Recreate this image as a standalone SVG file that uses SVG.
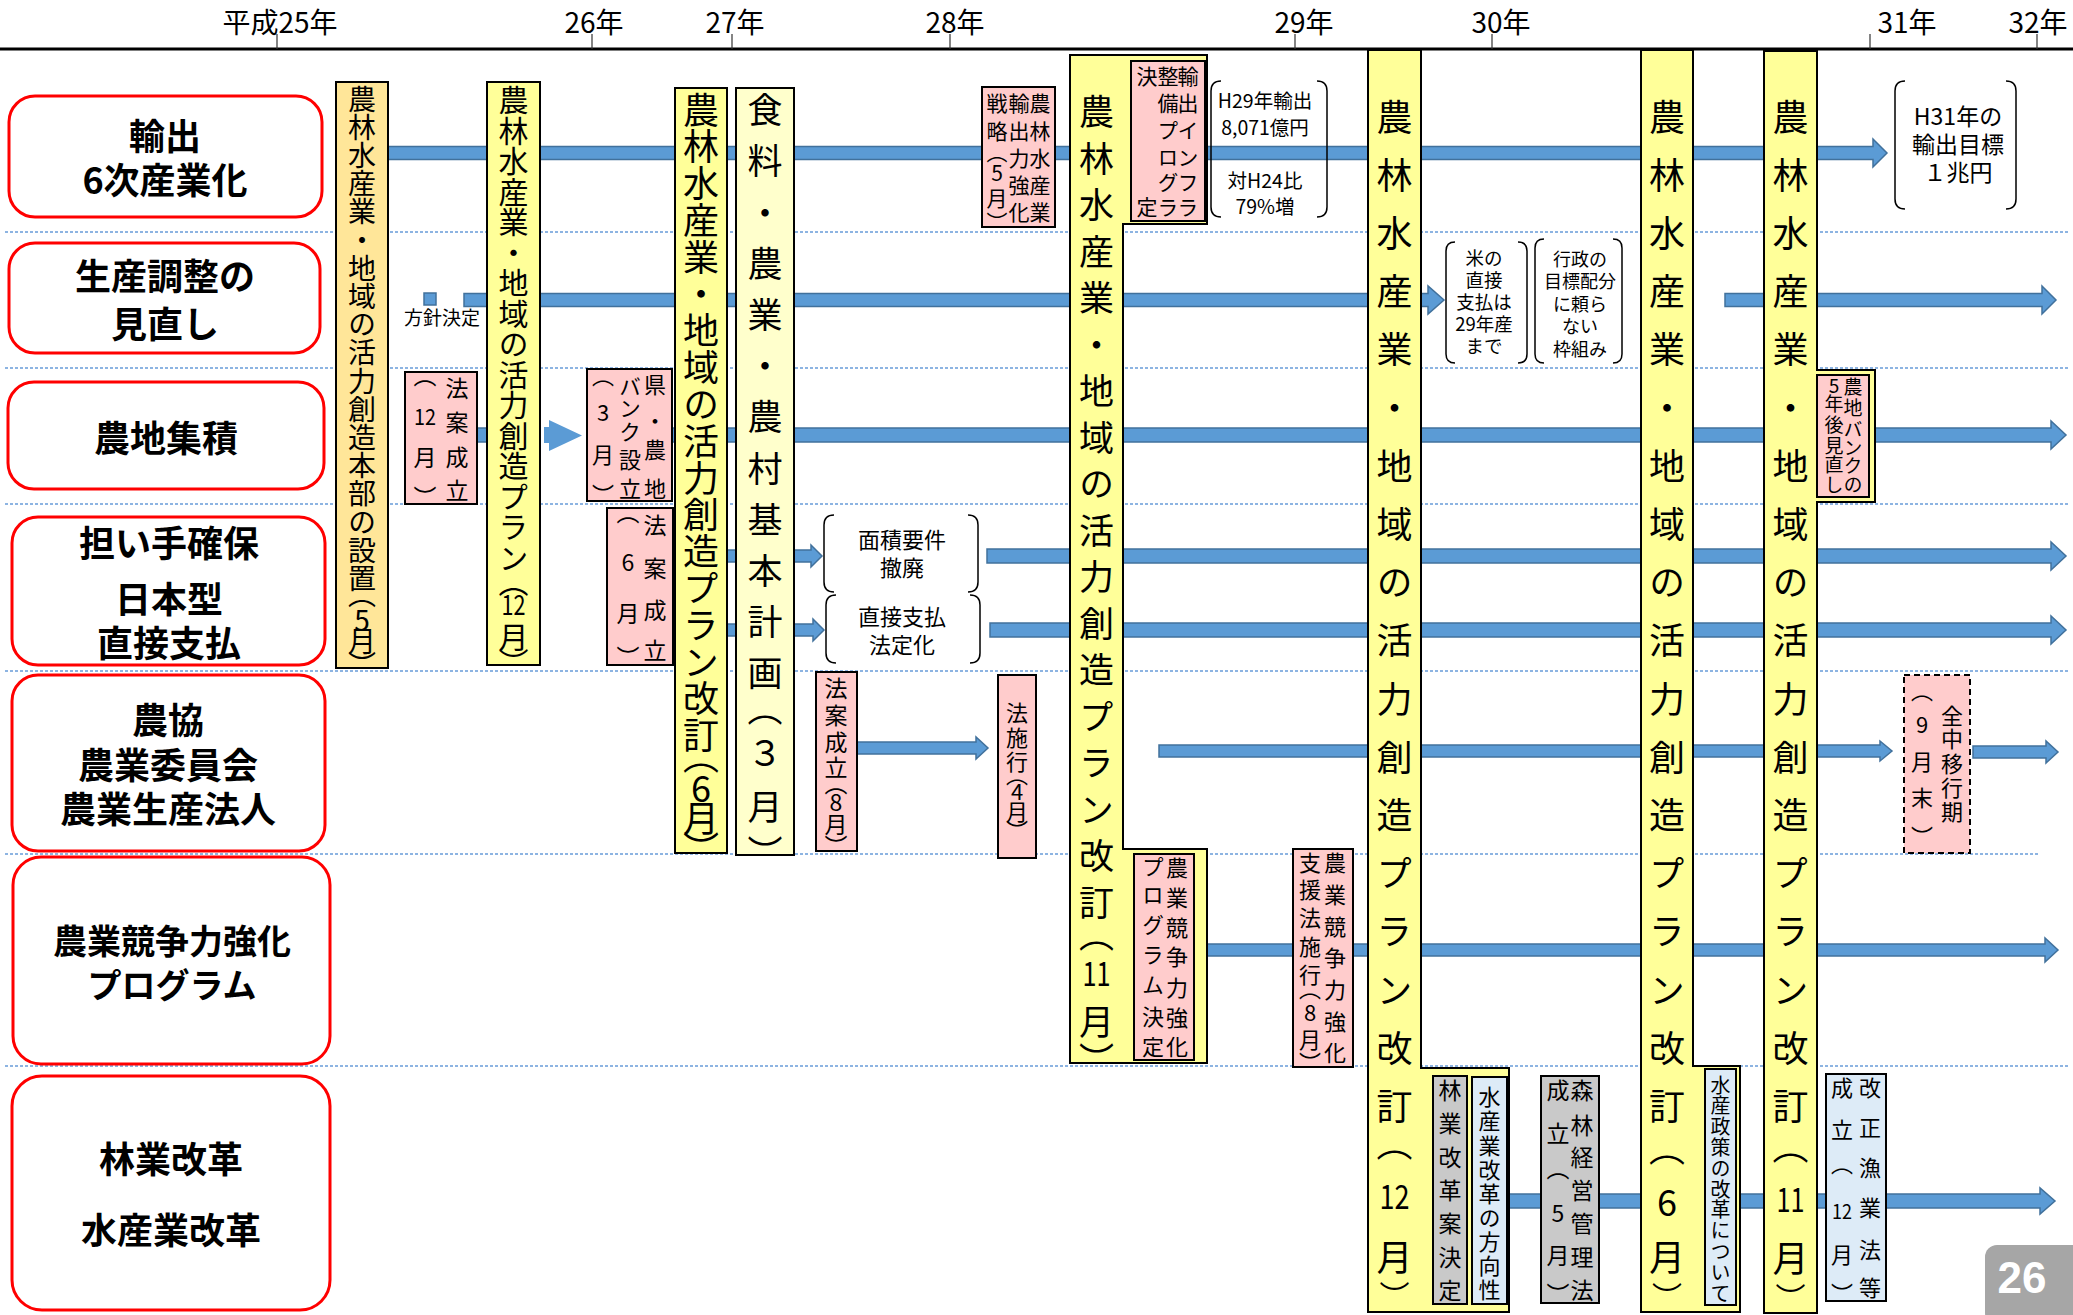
<svg xmlns="http://www.w3.org/2000/svg" width="2073" height="1315" viewBox="0 0 2073 1315">
<style>
text{font-family:"Noto Sans CJK JP","Noto Sans CJK SC",sans-serif;fill:#000}
.ax{font-size:28px;text-anchor:middle}
.lb{font-size:36px;font-weight:700;text-anchor:middle}
.v{writing-mode:vertical-rl;text-orientation:upright;text-anchor:middle}
.h{text-anchor:middle}
.sep{stroke:#8DB4E2;stroke-width:2;stroke-dasharray:3 2;fill:none}
.row{fill:#fff;stroke:#FF0000;stroke-width:3}
.arr{fill:#5B9BD5;stroke:#41719C;stroke-width:1.5}
.yb{fill:#FFFF99;stroke:#000;stroke-width:2}
.pk{fill:#FFCCCC;stroke:#000;stroke-width:2}
.gy{fill:#C9C9C9;stroke:#000;stroke-width:2}
.lbb{fill:#DDEBF7;stroke:#000;stroke-width:2}
.br{fill:none;stroke:#000;stroke-width:1.5}
.bt{font-size:19.5px;text-anchor:middle}
</style>

<g id="axis">
<line x1="0" y1="49" x2="2073" y2="49" stroke="#000" stroke-width="3"/>
<g stroke="#333" stroke-width="1.2">
<line x1="277" y1="34" x2="277" y2="49"/><line x1="592" y1="34" x2="592" y2="49"/><line x1="732" y1="34" x2="732" y2="49"/><line x1="950" y1="34" x2="950" y2="49"/><line x1="1295" y1="34" x2="1295" y2="49"/><line x1="1492" y1="34" x2="1492" y2="49"/><line x1="1870" y1="34" x2="1870" y2="49"/><line x1="2037" y1="34" x2="2037" y2="49"/>
</g>
<text class="ax" x="280" y="33">平成25年</text>
<text class="ax" x="594" y="33">26年</text>
<text class="ax" x="735" y="33">27年</text>
<text class="ax" x="955" y="33">28年</text>
<text class="ax" x="1304" y="33">29年</text>
<text class="ax" x="1501" y="33">30年</text>
<text class="ax" x="1907" y="33">31年</text>
<text class="ax" x="2038" y="33">32年</text>
</g>

<g id="separators">
<line class="sep" x1="5" y1="232" x2="2068" y2="232"/>
<line class="sep" x1="5" y1="368" x2="2068" y2="368"/>
<line class="sep" x1="5" y1="504" x2="2068" y2="504"/>
<line class="sep" x1="5" y1="671" x2="2068" y2="671"/>
<line class="sep" x1="5" y1="854" x2="2040" y2="854"/>
<line class="sep" x1="5" y1="1066" x2="2068" y2="1066"/>
</g>

<g id="rows">
<g id="row-export"><rect class="row" x="9" y="96" width="313" height="121" rx="26"/><text class="lb" x="165" y="150">輸出</text><text class="lb" x="165" y="194">6次産業化</text></g>
<g id="row-production"><rect class="row" x="9" y="243" width="311" height="110" rx="26"/><text class="lb" x="165" y="290">生産調整の</text><text class="lb" x="165" y="338">見直し</text></g>
<g id="row-farmland"><rect class="row" x="8" y="382" width="316" height="107" rx="26"/><text class="lb" x="166" y="452">農地集積</text></g>
<g id="row-farmers"><rect class="row" x="12" y="517" width="313" height="148" rx="26"/><text class="lb" x="169" y="557">担い手確保</text><text class="lb" x="169" y="613">日本型</text><text class="lb" x="169" y="657">直接支払</text></g>
<g id="row-ja"><rect class="row" x="12" y="675" width="313" height="176" rx="26"/><text class="lb" x="168" y="734">農協</text><text class="lb" x="168" y="779">農業委員会</text><text class="lb" x="168" y="823">農業生産法人</text></g>
<g id="row-competitiveness"><rect class="row" x="13" y="857" width="317" height="207" rx="28"/><text class="lb" x="172" y="954" style="font-size:34px">農業競争力強化</text><text class="lb" x="172" y="998" style="font-size:34px">プログラム</text></g>
<g id="row-forestry"><rect class="row" x="12" y="1076" width="318" height="234" rx="30"/><text class="lb" x="171" y="1173">林業改革</text><text class="lb" x="171" y="1244">水産業改革</text></g>
</g>

<g id="connectors">
<polygon class="arr" points="388,146.5 1873,146.5 1873,139 1887,153 1873,167 1873,159.5 388,159.5"/>
<rect class="arr" x="424" y="293" width="12" height="12"/>
<polygon class="arr" points="464,293.5 1428,293.5 1428,286 1444,300 1428,314 1428,306.5 464,306.5"/>
<polygon class="arr" points="1725,293.5 2042,293.5 2042,286 2056,300 2042,314 2042,306.5 1725,306.5"/>
<rect class="arr" x="477" y="428" width="60" height="14"/>
<polygon fill="#5B9BD5" points="544,427 549,427 549,420 582,435.5 549,451 549,443 544,443"/>
<polygon class="arr" points="672,428 2051,428 2051,421 2066,435 2051,449 2051,442 672,442"/>
<polygon class="arr" points="673,550 811,550 811,545 822,556 811,567 811,562 673,562"/>
<polygon class="arr" points="987,549 2051,549 2051,542 2066,556 2051,570 2051,563 987,563"/>
<polygon class="arr" points="673,624 813,624 813,619 824,630 813,641 813,636 673,636"/>
<polygon class="arr" points="990,623 2051,623 2051,616 2066,630 2051,644 2051,637 990,637"/>
<polygon class="arr" points="857,742 976,742 976,737 988,748 976,759 976,754 857,754"/>
<polygon class="arr" points="1159,745 1880,745 1880,741 1892,751 1880,761 1880,757 1159,757"/>
<polygon class="arr" points="1973,746 2046,746 2046,741 2058,752 2046,763 2046,758 1973,758"/>
<polygon class="arr" points="1206,944 2045,944 2045,938 2058,950 2045,962 2045,956 1206,956"/>
<polygon class="arr" points="1507,1194 2040,1194 2040,1188 2055,1201 2040,1214 2040,1208 1507,1208"/>
<text x="442" y="325" style="font-size:19px;text-anchor:middle">方針決定</text>
</g>

<g id="plan-h25-honbu">
<rect x="336" y="82" width="52" height="586" fill="#FFE699" stroke="#000" stroke-width="2"/>
<text class="v" x="362" y="99 127.2 155.4 183.6 211.8 240 268.2 296.4 324.6 352.8 381 409.2 437.4 465.6 493.8 522 550.2 578.4" style="font-size:28px">農林水産業・地域の活力創造本部の設置</text>
<text class="v" x="362" y="594.4 620 641 665.6" style="font-size:28px">（5月）</text>
</g>

<g id="plan-h25-12">
<rect class="yb" x="487" y="82" width="53" height="583"/>
<text class="v" x="513.5" y="100 130.5 161 191.5 222 252.5 283 313.5 344 374.5 405 435.5 466 496.5 527 557.5" style="font-size:30px">農林水産業・地域の活力創造プラン</text>
<text class="v" x="513.5" y="582" style="font-size:30px">（</text>
<text class="h" x="513.5" y="615" style="font-size:28px" textLength="24" lengthAdjust="spacingAndGlyphs">12</text>
<text class="v" x="513.5" y="637 663" style="font-size:30px">月）</text>
</g>

<g id="plan-h26-6">
<rect class="yb" x="675" y="88" width="52" height="765"/>
<text class="v" x="701" y="110 146.8 183.6 220.4 257.2 294 330.8 367.6 404.4 441.2 478 514.8 551.6 588.4 625.2 662 698.8 735.6" style="font-size:36px">農林水産業・地域の活力創造プラン改訂</text>
<text class="v" x="701" y="756 788 818 849" style="font-size:36px">（6月）</text>
</g>

<g id="basic-plan">
<rect x="736" y="88" width="58" height="767" fill="#FFFFCC" stroke="#000" stroke-width="2"/>
<text class="v" x="765" y="110 161.2 212.4 263.6 314.8 366 417.2 468.4 519.6 570.8 622 673.2" style="font-size:35px">食料・農業・農村基本計画</text>
<text class="v" x="765" y="709 753 807 853" style="font-size:35px">（３月）</text>
</g>

<g id="plan-h28-11">
<polygon class="yb" points="1070,55 1207,55 1207,224 1123,224 1123,849 1207,849 1207,1063 1070,1063"/>
<text class="v" x="1096.5" y="112 158.5 205 251.5 298 344.5 391 437.5 484 530.5 577 623.5 670 716.5 763 809.5 856 902.5" style="font-size:35px">農林水産業・地域の活力創造プラン改訂</text>
<text class="v" x="1096.5" y="935" style="font-size:35px">（</text>
<text class="h" x="1096.5" y="986" style="font-size:34px" textLength="28" lengthAdjust="spacingAndGlyphs">11</text>
<text class="v" x="1096.5" y="1022 1060" style="font-size:35px">月）</text>
</g>

<g id="plan-h29-12">
<polygon class="yb" points="1368,50 1421,50 1421,1068 1509,1068 1509,1312 1368,1312"/>
<text class="v" x="1394.5" y="117 175.2 233.4 291.6 349.8 408 466.2 524.4 582.6 640.8 699 757.2 815.4 873.6 931.8 990 1048.2 1106.4" style="font-size:36px">農林水産業・地域の活力創造プラン改訂</text>
<text class="v" x="1394.5" y="1143" style="font-size:36px">（</text>
<text class="h" x="1394.5" y="1209" style="font-size:34px" textLength="30" lengthAdjust="spacingAndGlyphs">12</text>
<text class="v" x="1394.5" y="1257" style="font-size:36px">月</text>
<text class="v" x="1394.5" y="1296" style="font-size:30px">）</text>
</g>

<g id="plan-h30-6">
<polygon class="yb" points="1641,50 1693,50 1693,1066 1740,1066 1740,1312 1641,1312"/>
<text class="v" x="1667" y="117 175.2 233.4 291.6 349.8 408 466.2 524.4 582.6 640.8 699 757.2 815.4 873.6 931.8 990 1048.2 1106.4" style="font-size:36px">農林水産業・地域の活力創造プラン改訂</text>
<text class="v" x="1667" y="1148 1202 1257" style="font-size:36px">（6月</text>
<text class="v" x="1667" y="1297" style="font-size:30px">）</text>
</g>

<g id="plan-h30-11">
<polygon class="yb" points="1764,51 1817,51 1817,370 1875,370 1875,502 1817,502 1817,1313 1764,1313"/>
<text class="v" x="1790.5" y="117 175.2 233.4 291.6 349.8 408 466.2 524.4 582.6 640.8 699 757.2 815.4 873.6 931.8 990 1048.2 1106.4" style="font-size:36px">農林水産業・地域の活力創造プラン改訂</text>
<text class="v" x="1790.5" y="1146" style="font-size:36px">（</text>
<text class="h" x="1790.5" y="1212" style="font-size:34px" textLength="28" lengthAdjust="spacingAndGlyphs">11</text>
<text class="v" x="1790.5" y="1258" style="font-size:36px">月</text>
<text class="v" x="1790.5" y="1298" style="font-size:30px">）</text>
</g>

<g id="law-h25-12">
<rect class="pk" x="405" y="372" width="72" height="132"/>
<text class="v" x="457" y="388 422 457 490" style="font-size:23px">法案成立</text>
<text class="v" x="425" y="375.4" style="font-size:23px">（</text>
<text class="h" x="425" y="425" style="font-size:22px" textLength="22" lengthAdjust="spacingAndGlyphs">12</text>
<text class="v" x="425" y="457 497.6" style="font-size:23px">月）</text>
</g>

<g id="bank-h26-3">
<rect class="pk" x="587" y="369" width="85" height="132"/>
<text class="v" x="655" y="385 421 450 489" style="font-size:22px">県・農地</text>
<text class="v" x="630" y="387 408 432 460 489" style="font-size:22px">バンク設立</text>
<text class="v" x="603" y="375.6 413 455 494.4" style="font-size:22px">（3月）</text>
</g>

<g id="law-h27-6">
<rect class="pk" x="607" y="508" width="66" height="157"/>
<text class="v" x="655" y="525 568 610 650" style="font-size:23px">法案成立</text>
<text class="v" x="628" y="512.4 562 613 657.6" style="font-size:23px">（6月）</text>
</g>

<g id="law-h27-8">
<rect class="pk" x="816" y="672" width="41" height="179"/>
<text class="v" x="836" y="688 715 742 767 783.4 802 824 846.6" style="font-size:23px">法案成立（8月）</text>
</g>

<g id="law-h28-4">
<rect class="pk" x="998" y="675" width="38" height="183"/>
<text class="v" x="1017" y="713 738 762 774.6 792 812 830.4" style="font-size:22px">法施行（4月）</text>
</g>

<g id="export-strategy">
<rect class="pk" x="982" y="87" width="73" height="140"/>
<text class="v" x="1040" y="103 131 158 185 212" style="font-size:21px">農林水産業</text>
<text class="v" x="1019" y="103 131 158 185 212" style="font-size:21px">輸出力強化</text>
<text class="v" x="997" y="103 131 152 173 198 222" style="font-size:21px">戦略（5月）</text>
</g>

<g id="export-infra">
<rect class="pk" x="1131" y="61" width="74" height="160"/>
<text class="v" x="1188" y="76 103 130 157 182 207" style="font-size:21px">輸出インフラ</text>
<text class="v" x="1168" y="76 103 130 157 182 207" style="font-size:21px">整備プログラ</text>
<text class="v" x="1147" y="76 207" style="font-size:21px">決定</text>
</g>

<g id="note-h29-export">
<path class="br" d="M1221,81 Q1211,81 1211,91 L1211,207 Q1211,217 1221,217 M1317,81 Q1327,81 1327,91 L1327,207 Q1327,217 1317,217"/>
<text class="bt" x="1265" y="108">H29年輸出</text>
<text class="bt" x="1265" y="135">8,071億円</text>
<text class="bt" x="1265" y="188">対H24比</text>
<text class="bt" x="1265" y="214">79%増</text>
</g>

<g id="note-h31-target">
<path class="br" d="M1905,81 Q1895,81 1895,91 L1895,199 Q1895,209 1905,209 M2006,81 Q2016,81 2016,91 L2016,199 Q2016,209 2006,209"/>
<text class="bt" x="1958" y="125" style="font-size:23px">H31年の</text>
<text class="bt" x="1958" y="153" style="font-size:23px">輸出目標</text>
<text class="bt" x="1958" y="181" style="font-size:23px">１兆円</text>
</g>

<g id="note-rice">
<path class="br" d="M1455,242 Q1446,242 1446,251 L1446,354 Q1446,363 1455,363 M1518,242 Q1527,242 1527,251 L1527,354 Q1527,363 1518,363"/>
<text class="bt" x="1484" y="265" style="font-size:18.5px">米の</text>
<text class="bt" x="1484" y="287" style="font-size:18.5px">直接</text>
<text class="bt" x="1484" y="309" style="font-size:18.5px">支払は</text>
<text class="bt" x="1484" y="331" style="font-size:18.5px">29年産</text>
<text class="bt" x="1484" y="353" style="font-size:18.5px">まで</text>
</g>

<g id="note-allocation">
<path class="br" d="M1544,239 Q1535,239 1535,248 L1535,354 Q1535,363 1544,363 M1613,239 Q1622,239 1622,248 L1622,354 Q1622,363 1613,363"/>
<text class="bt" x="1580" y="266" style="font-size:18px">行政の</text>
<text class="bt" x="1580" y="288" style="font-size:18px">目標配分</text>
<text class="bt" x="1580" y="311" style="font-size:18px">に頼ら</text>
<text class="bt" x="1580" y="333" style="font-size:18px">ない</text>
<text class="bt" x="1580" y="356" style="font-size:18px">枠組み</text>
</g>

<g id="note-area">
<path class="br" d="M834,515 Q824,515 824,525 L824,582 Q824,592 834,592 M968,515 Q978,515 978,525 L978,582 Q978,592 968,592"/>
<text class="bt" x="902" y="548" style="font-size:22px">面積要件</text>
<text class="bt" x="902" y="576" style="font-size:22px">撤廃</text>
</g>

<g id="note-direct">
<path class="br" d="M836,595 Q826,595 826,605 L826,653 Q826,663 836,663 M970,595 Q980,595 980,605 L980,653 Q980,663 970,663"/>
<text class="bt" x="902" y="625" style="font-size:22px">直接支払</text>
<text class="bt" x="902" y="653" style="font-size:22px">法定化</text>
</g>

<g id="program-h28-11">
<rect class="pk" x="1134" y="854" width="60" height="206"/>
<text class="v" x="1177" y="868 898 928 957 988 1018 1047" style="font-size:22px">農業競争力強化</text>
<text class="v" x="1153" y="867 895 925 955 985 1017 1047" style="font-size:22px">プログラム決定</text>
</g>

<g id="support-law">
<rect class="pk" x="1293" y="849" width="60" height="218"/>
<text class="v" x="1335" y="863 895 927 958 990 1022 1053" style="font-size:22px">農業競争力強化</text>
<text class="v" x="1310" y="863 890 918 947 975 988.6 1013 1040 1062.4" style="font-size:22px">支援法施行（8月）</text>
</g>

<g id="forestry-plan">
<rect class="gy" x="1433" y="1076" width="34" height="228"/>
<text class="v" x="1450" y="1090 1123 1157 1190 1223 1257 1290" style="font-size:23px">林業改革案決定</text>
</g>

<g id="fishery-direction">
<rect class="lbb" x="1472" y="1077" width="35" height="227"/>
<text class="v" x="1489.5" y="1097 1121.1 1145.2 1169.4 1193.5 1217.6 1241.7 1265.9 1290" style="font-size:22px">水産業改革の方向性</text>
</g>

<g id="forest-law">
<rect class="gy" x="1541" y="1076" width="58" height="227"/>
<text class="v" x="1582" y="1090 1125 1157 1190 1223 1257 1290" style="font-size:23px">森林経営管理法</text>
<text class="v" x="1558" y="1090 1133 1168.4 1213 1255 1294" style="font-size:23px">成立（5月）</text>
</g>

<g id="fishery-policy">
<rect class="lbb" x="1705" y="1069" width="31" height="236"/>
<text class="v" x="1720.5" y="1085 1105.8 1126.6 1147.4 1168.2 1189 1209.8 1230.6 1251.4 1272.2 1293" style="font-size:20px">水産政策の改革について</text>
</g>

<g id="fishery-law">
<rect class="lbb" x="1826" y="1074" width="60" height="227"/>
<text class="v" x="1870" y="1088 1128 1168 1208 1250 1288" style="font-size:22px">改正漁業法等</text>
<text class="v" x="1842" y="1088 1130 1163.6" style="font-size:22px">成立（</text>
<text class="h" x="1842" y="1219" style="font-size:20px" textLength="20" lengthAdjust="spacingAndGlyphs">12</text>
<text class="v" x="1842" y="1255 1294" style="font-size:22px">月）</text>
</g>

<g id="bank-review">
<rect class="pk" x="1817" y="375" width="52" height="122"/>
<text class="v" x="1853" y="387 408 430 448 466 485" style="font-size:19px">農地バンクの</text>
<text class="v" x="1834" y="386 404 425 446 465 485" style="font-size:19px">5年後見直し</text>
</g>

<g id="zenchu">
<rect x="1904" y="675" width="66" height="178" fill="#FFCCCC" stroke="#000" stroke-width="2" stroke-dasharray="6 4"/>
<text class="v" x="1952" y="716 739 764 788 812" style="font-size:22px">全中移行期</text>
<text class="v" x="1922" y="690.6 725 762 798 836.4" style="font-size:22px">（9月末）</text>
</g>

<g id="page-number">
<rect x="1985" y="1245" width="100" height="80" rx="12" fill="#A6A6A6"/>
<text x="2022" y="1293" style="font-family:'Liberation Sans',sans-serif;font-size:44px;font-weight:700;fill:#fff;text-anchor:middle">26</text>
</g>
</svg>
